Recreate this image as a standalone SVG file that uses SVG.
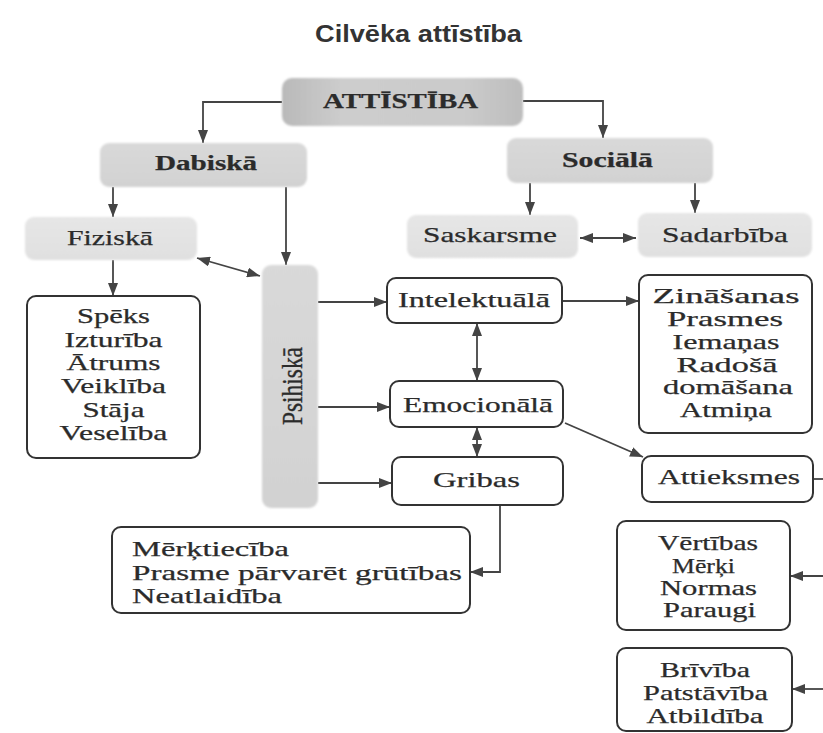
<svg xmlns="http://www.w3.org/2000/svg" width="823" height="733" viewBox="0 0 823 733">
<defs>
<style>
.t{font-family:"Liberation Serif","Times New Roman",serif;font-size:21px;fill:#2b2b2b;stroke:#2b2b2b;stroke-width:0.25;text-anchor:middle}
.b{font-weight:bold;font-size:20px}
.l{text-anchor:start}
.ttl{font-family:"Liberation Sans",Arial,sans-serif;font-weight:bold;font-size:24px;fill:#333;text-anchor:middle}
.wb{fill:#fff;stroke:#333;stroke-width:2}
.gb{filter:url(#soft)}
.c{fill:none;stroke:#444;stroke-width:1.8}
.e{marker-end:url(#ah)}
.d{marker-start:url(#ah);marker-end:url(#ah)}
</style>
<marker id="ah" viewBox="0 0 13 10" refX="13" refY="5" markerWidth="13" markerHeight="10" markerUnits="userSpaceOnUse" orient="auto-start-reverse">
<path d="M0,0 L13,5 L0,10 z" fill="#444"/>
</marker>
<filter id="soft" x="-10%" y="-10%" width="120%" height="120%">
<feGaussianBlur stdDeviation="1.2"/>
</filter>
<linearGradient id="g1" x1="0" y1="0" x2="1" y2="0">
<stop offset="0" stop-color="#b9b9b9"/>
<stop offset="0.25" stop-color="#cdcdcd"/>
<stop offset="0.75" stop-color="#cbcbcb"/>
<stop offset="1" stop-color="#bdbdbd"/>
</linearGradient>
<linearGradient id="g2" x1="0" y1="0" x2="0" y2="1">
<stop offset="0" stop-color="#d9d9d9"/>
<stop offset="1" stop-color="#d2d2d2"/>
</linearGradient>
<linearGradient id="g3" x1="0" y1="0" x2="0" y2="1">
<stop offset="0" stop-color="#e6e6e6"/>
<stop offset="1" stop-color="#e0e0e0"/>
</linearGradient>
</defs>
<rect width="823" height="733" fill="#fff"/>
<text class="ttl" x="418.5" y="42" textLength="207" lengthAdjust="spacingAndGlyphs">Cilvēka attīstība</text>

<g id="connectors">
<path class="c e" d="M282,102 H203 V143"/>
<path class="c e" d="M523,101 H603 V138"/>
<path class="c e" d="M113,187 V217"/>
<path class="c e" d="M286,187 V265"/>
<path class="c e" d="M530,183 V215"/>
<path class="c e" d="M695,183 V213"/>
<path class="c d" d="M580,238 H636"/>
<path class="c d" d="M197,258 L260,276"/>
<path class="c e" d="M113,260 V296"/>
<path class="c e" d="M318,302 H387"/>
<path class="c e" d="M318,407 H390"/>
<path class="c e" d="M318,483 H392"/>
<path class="c d" d="M477,323 V381"/>
<path class="c d" d="M477,427 V457"/>
<path class="c e" d="M562,301 H639"/>
<path class="c e" d="M565,423 L643,457"/>
<path class="c e" d="M500,505 V572 H470"/>
<path class="c" d="M813,479 H823"/>
<path class="c e" d="M823,576 H790"/>
<path class="c e" d="M823,689 H792"/>
</g>

<g id="attistiba">
<rect class="gb" x="282" y="78" width="241" height="48" rx="10" fill="url(#g1)"/>
<text class="t b" x="400.5" y="108" textLength="155" lengthAdjust="spacingAndGlyphs">ATTĪSTĪBA</text>
</g>
<g id="dabiska">
<rect class="gb" x="100" y="143" width="207" height="44" rx="9" fill="url(#g2)"/>
<text class="t b" x="206" y="170" textLength="102" lengthAdjust="spacingAndGlyphs">Dabiskā</text>
</g>
<g id="sociala">
<rect class="gb" x="507" y="138" width="206" height="45" rx="9" fill="url(#g2)"/>
<text class="t b" x="607.5" y="167" textLength="91" lengthAdjust="spacingAndGlyphs">Sociālā</text>
</g>
<g id="fiziska">
<rect class="gb" x="25" y="217" width="172" height="43" rx="9" fill="url(#g3)"/>
<text class="t" x="110" y="245" textLength="86" lengthAdjust="spacingAndGlyphs">Fiziskā</text>
</g>
<g id="saskarsme">
<rect class="gb" x="407" y="215" width="171" height="43" rx="9" fill="url(#g3)"/>
<text class="t" x="490" y="242" textLength="134" lengthAdjust="spacingAndGlyphs">Saskarsme</text>
</g>
<g id="sadarbiba">
<rect class="gb" x="638" y="213" width="174" height="44" rx="9" fill="url(#g3)"/>
<text class="t" x="725" y="242" textLength="126" lengthAdjust="spacingAndGlyphs">Sadarbība</text>
</g>
<g id="psihiska">
<rect class="gb" x="262" y="265" width="56" height="243" rx="9" fill="url(#g2)"/>
<text class="t" transform="translate(302,386) rotate(-90) scale(1,1.4)" x="0" y="0" textLength="78" lengthAdjust="spacingAndGlyphs">Psihiskā</text>
</g>

<g id="fiziska-list">
<rect class="wb" x="27" y="296" width="173" height="162" rx="9"/>
<text class="t" x="113.5" y="323" textLength="73" lengthAdjust="spacingAndGlyphs">Spēks</text>
<text class="t" x="113.5" y="347" textLength="98" lengthAdjust="spacingAndGlyphs">Izturība</text>
<text class="t" x="113.5" y="370" textLength="94" lengthAdjust="spacingAndGlyphs">Ātrums</text>
<text class="t" x="113.5" y="393" textLength="105" lengthAdjust="spacingAndGlyphs">Veiklība</text>
<text class="t" x="113.5" y="417" textLength="62" lengthAdjust="spacingAndGlyphs">Stāja</text>
<text class="t" x="113.5" y="440" textLength="108" lengthAdjust="spacingAndGlyphs">Veselība</text>
</g>
<g id="intelektuala">
<rect class="wb" x="387" y="278" width="175" height="45" rx="9"/>
<text class="t" x="474" y="307" textLength="152" lengthAdjust="spacingAndGlyphs">Intelektuālā</text>
</g>
<g id="emocionala">
<rect class="wb" x="390" y="381" width="173" height="46" rx="9"/>
<text class="t" x="478" y="412" textLength="150" lengthAdjust="spacingAndGlyphs">Emocionālā</text>
</g>
<g id="gribas">
<rect class="wb" x="392" y="457" width="171" height="48" rx="9"/>
<text class="t" x="476.5" y="487" textLength="87" lengthAdjust="spacingAndGlyphs">Gribas</text>
</g>
<g id="intelektuala-list">
<rect class="wb" x="639" y="275" width="173" height="158" rx="9"/>
<text class="t" x="726" y="303" textLength="147" lengthAdjust="spacingAndGlyphs">Zināšanas</text>
<text class="t" x="725" y="326" textLength="116" lengthAdjust="spacingAndGlyphs">Prasmes</text>
<text class="t" x="726" y="349" textLength="107" lengthAdjust="spacingAndGlyphs">Iemaņas</text>
<text class="t" x="727" y="372" textLength="101" lengthAdjust="spacingAndGlyphs">Radošā</text>
<text class="t" x="728" y="394" textLength="130" lengthAdjust="spacingAndGlyphs">domāšana</text>
<text class="t" x="726" y="417" textLength="92" lengthAdjust="spacingAndGlyphs">Atmiņa</text>
</g>
<g id="attieksmes">
<rect class="wb" x="642" y="456" width="171" height="46" rx="9"/>
<text class="t" x="729" y="484" textLength="142" lengthAdjust="spacingAndGlyphs">Attieksmes</text>
</g>
<g id="gribas-list">
<rect class="wb" x="112" y="527" width="358" height="86" rx="9"/>
<text class="t l" x="132" y="556" textLength="157" lengthAdjust="spacingAndGlyphs">Mērķtiecība</text>
<text class="t l" x="132" y="580" textLength="330" lengthAdjust="spacingAndGlyphs">Prasme pārvarēt grūtības</text>
<text class="t l" x="132" y="603" textLength="150" lengthAdjust="spacingAndGlyphs">Neatlaidība</text>
</g>
<g id="vertibas">
<rect class="wb" x="617" y="521" width="173" height="109" rx="9"/>
<text class="t" x="708" y="550" textLength="100" lengthAdjust="spacingAndGlyphs">Vērtības</text>
<text class="t" x="703.5" y="573" textLength="63" lengthAdjust="spacingAndGlyphs">Mērķi</text>
<text class="t" x="708.5" y="595" textLength="97" lengthAdjust="spacingAndGlyphs">Normas</text>
<text class="t" x="709.5" y="617" textLength="93" lengthAdjust="spacingAndGlyphs">Paraugi</text>
</g>
<g id="brivba">
<rect class="wb" x="617" y="648" width="175" height="83" rx="9"/>
<text class="t" x="705" y="677" textLength="90" lengthAdjust="spacingAndGlyphs">Brīvība</text>
<text class="t" x="705.5" y="700" textLength="125" lengthAdjust="spacingAndGlyphs">Patstāvība</text>
<text class="t" x="705" y="723" textLength="117" lengthAdjust="spacingAndGlyphs">Atbildība</text>
</g>
</svg>
